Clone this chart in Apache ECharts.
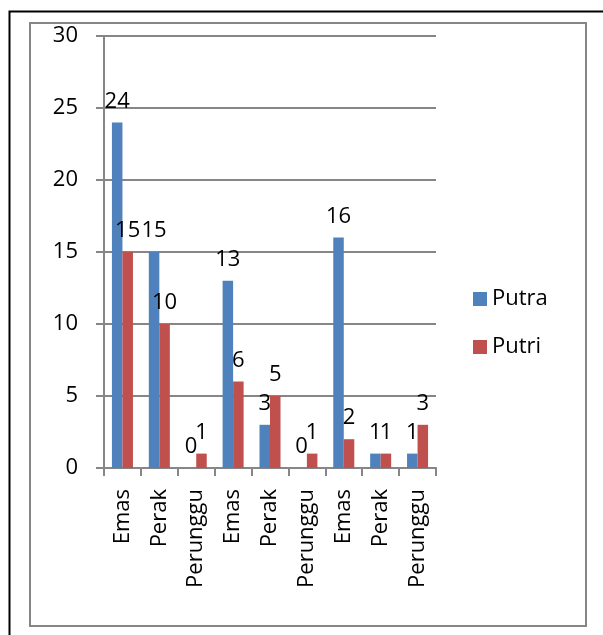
<!DOCTYPE html>
<html>
<head>
<meta charset="utf-8">
<script src="https://cdn.jsdelivr.net/npm/echarts@6/dist/echarts.min.js"></script>
<style>
  html, body { margin: 0; padding: 0; background: #fff; }
  #chart { width: 603px; height: 635px; }
</style>
</head>
<body>
<div id="chart"></div>
<script>
// medal categories (three groups of Emas / Perak / Perunggu)
const categories = ["Emas", "Perak", "Perunggu", "Emas", "Perak", "Perunggu", "Emas", "Perak", "Perunggu"];
const putra = [24, 15, 0, 13, 3, 0, 16, 1, 1];
const putri = [15, 10, 1, 6, 5, 1, 2, 1, 3];
const seriesNames = ["Putra", "Putri"];

const chart = echarts.init(document.getElementById("chart"));
const font = "'Open Sans', sans-serif";
const gray = "#868686";

const labelStyle = {
  show: true,
  position: "top",
  distance: 10,
  color: "#000",
  fontSize: 22,
  fontFamily: font
};

chart.setOption({
  animation: false,
  graphic: [
    // outer black frame (left + top only visible)
    { type: "polyline", shape: { points: [[9.5, 635], [9.5, 11.5], [603, 11.5]] },
      style: { stroke: "#000", lineWidth: 2, fill: null } },
    // chart area border
    { type: "rect", shape: { x: 30, y: 23, width: 556, height: 603 },
      style: { stroke: gray, lineWidth: 2, fill: null } }
  ],
  legend: {
    data: seriesNames,
    orient: "vertical",
    left: 468,
    top: 283,
    icon: "rect",
    itemWidth: 14,
    itemHeight: 14,
    itemGap: 26,
    textStyle: { fontSize: 22, fontFamily: font, color: "#000" }
  },
  grid: { left: 104, right: 167, top: 36, bottom: 167 },
  xAxis: {
    type: "category",
    data: categories,
    axisLine: { lineStyle: { color: gray, width: 2 } },
    axisTick: { show: true, length: 8, lineStyle: { color: gray, width: 2 } },
    axisLabel: {
      rotate: 90,
      margin: 21,
      interval: 0,
      fontSize: 22,
      fontFamily: font,
      color: "#000"
    }
  },
  yAxis: {
    type: "value",
    min: 0,
    max: 30,
    interval: 5,
    axisLine: { show: true, lineStyle: { color: gray, width: 2 } },
    axisTick: { show: true, length: 8, lineStyle: { color: gray, width: 2 } },
    splitLine: { lineStyle: { color: gray, width: 2 } },
    axisLabel: { margin: 26, fontSize: 22, fontFamily: font, color: "#000" }
  },
  series: [
    {
      name: "Putra",
      type: "bar",
      data: putra,
      barGap: "0%",
      barCategoryGap: "43%",
      itemStyle: { color: "#4F81BD" },
      label: labelStyle
    },
    {
      name: "Putri",
      type: "bar",
      data: putri,
      itemStyle: { color: "#C0504D" },
      label: labelStyle
    }
  ]
});
</script>
</body>
</html>
